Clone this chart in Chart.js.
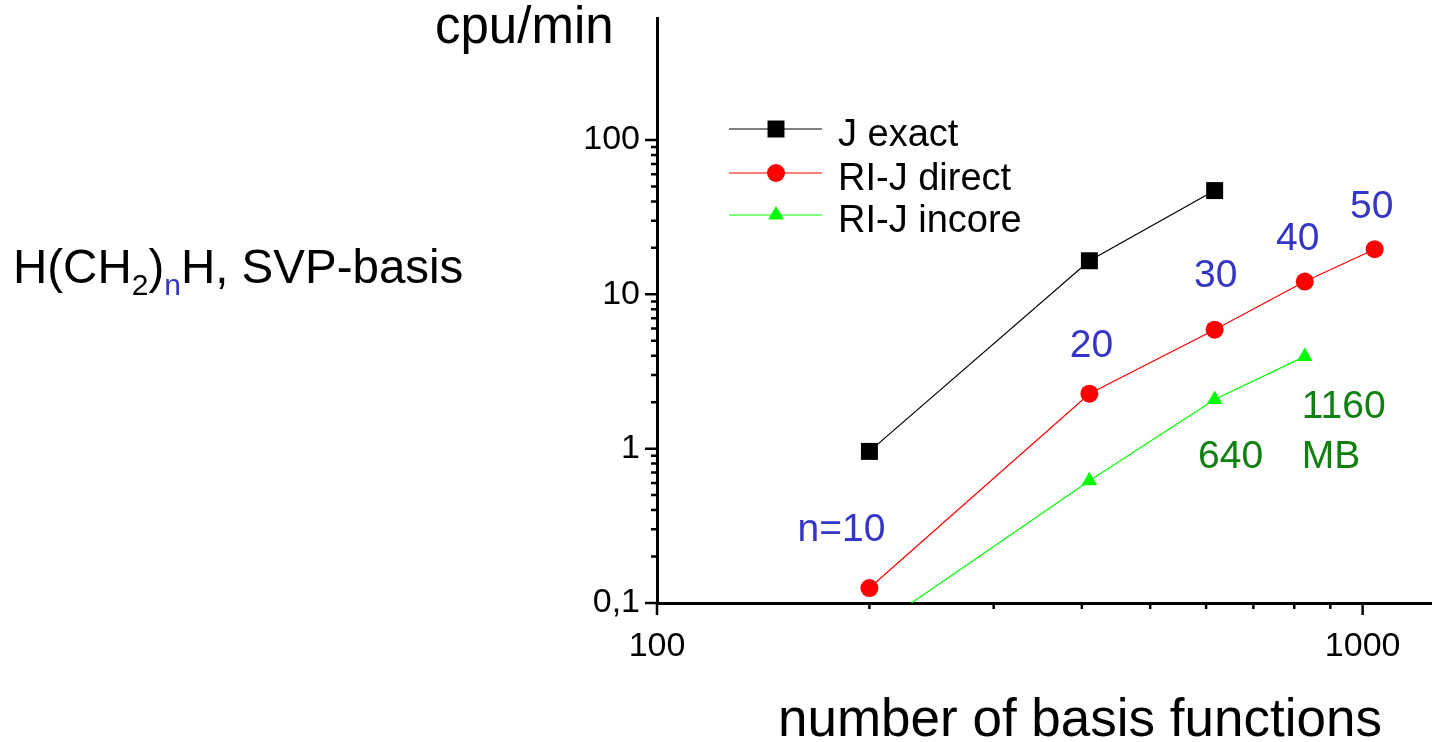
<!DOCTYPE html>
<html>
<head>
<meta charset="utf-8">
<title>cpu/min vs number of basis functions</title>
<script src="https://cdn.jsdelivr.net/npm/chart.js@4.4.1/dist/chart.umd.min.js"></script>
<style>
    html, body { margin: 0; padding: 0; background: #fff; }
    #wrap { position: relative; width: 1432px; height: 742px; }
</style>
</head>
<body>
<div id="wrap"><canvas id="cpuChart" width="1432" height="742"></canvas></div>
<script>
// data (log-log)
const basisFunctions = [200, 410, 617, 828, 1040];
const jExact = [0.96, 16.5, 47, null, null];
const riJDirect = [0.125, 2.27, 5.9, 12.1, 19.6];
const riJIncore = [0.065, 0.62, 2.08, 3.96, null];

const seriesNames = ['J exact', 'RI-J direct', 'RI-J incore'];
const chainLabels = ['n=10', '20', '30', '40', '50'];     // next to RI-J direct points
const memoryLabels = ['640', '1160', 'MB'];               // next to RI-J incore points
const memoryIndex = [2, 3, 3];

const xTicks = [100, 200, 300, 400, 500, 600, 700, 800, 900, 1000];
const yTicks = [0.1, 0.2, 0.3, 0.4, 0.5, 0.6, 0.7, 0.8, 0.9,
                1, 2, 3, 4, 5, 6, 7, 8, 9,
                10, 20, 30, 40, 50, 60, 70, 80, 90, 100];
const xTickLabels = { 100: '100', 1000: '1000' };
const yTickLabels = { 0.1: '0,1', 1: '1', 10: '10', 100: '100' };

const FONT = '"Liberation Sans", Arial, sans-serif';
const BLUE = '#3535c8';
const DKGREEN = '#108010';

function toPoints(values) {
    return basisFunctions.map((x, i) => ({ x: x, y: values[i] })).filter(p => p.y !== null);
}

function isMajor(v) {
    const l = Math.log10(v);
    return Math.abs(l - Math.round(l)) < 1e-9;
}

// label offsets relative to the data point (pixels)
const chainOffsets = [[-28, -58], [2, -47], [1, -53], [-7, -42], [-3, -42]];
const memoryOffsets = [[16, 58, 'center'], [-3, 51, 'left'], [-3, 101, 'left']];

const tickMarks = {
    id: 'tickMarks',
    afterDraw(chart) {
        const { ctx, chartArea, scales: { x, y } } = chart;
        ctx.save();
        ctx.strokeStyle = '#000';
        ctx.lineWidth = 2.5;
        ctx.beginPath();
        x.ticks.forEach(t => {
            const px = x.getPixelForValue(t.value);
            ctx.moveTo(px, chartArea.bottom);
            ctx.lineTo(px, chartArea.bottom + (isMajor(t.value) ? 12 : 6));
        });
        y.ticks.forEach(t => {
            const py = y.getPixelForValue(t.value);
            ctx.moveTo(chartArea.left, py);
            ctx.lineTo(chartArea.left - (isMajor(t.value) ? 12 : 6), py);
        });
        ctx.stroke();
        ctx.restore();
    }
};

const textLayer = {
    id: 'textLayer',
    afterDatasetsDraw(chart) {
        const { ctx, scales: { x, y } } = chart;
        ctx.save();
        ctx.textBaseline = 'middle';

        // chain length labels
        ctx.font = '39px ' + FONT;
        ctx.fillStyle = BLUE;
        ctx.textAlign = 'center';
        chainLabels.forEach((t, i) => {
            const o = chainOffsets[i];
            ctx.fillText(t, x.getPixelForValue(basisFunctions[i]) + o[0], y.getPixelForValue(riJDirect[i]) + o[1]);
        });

        // memory labels
        ctx.fillStyle = DKGREEN;
        memoryLabels.forEach((t, i) => {
            const k = memoryIndex[i];
            const o = memoryOffsets[i];
            ctx.textAlign = o[2];
            ctx.fillText(t, x.getPixelForValue(basisFunctions[k]) + o[0], y.getPixelForValue(riJIncore[k]) + o[1]);
        });

        // legend
        const rows = [129, 173, 215];
        chart.data.datasets.forEach((ds, i) => {
            ctx.strokeStyle = ds.borderColor;
            ctx.lineWidth = ds.borderWidth;
            ctx.beginPath();
            ctx.moveTo(729, rows[i]);
            ctx.lineTo(822, rows[i]);
            ctx.stroke();
            ctx.fillStyle = ds.pointBackgroundColor;
            ctx.strokeStyle = ds.pointBorderColor;
            Chart.helpers.drawPoint(ctx, {
                pointStyle: ds.pointStyle, radius: ds.pointRadius, rotation: 0, borderWidth: 0
            }, 776, rows[i]);
            ctx.fillStyle = '#000';
            ctx.textAlign = 'left';
            ctx.textBaseline = 'alphabetic';
            ctx.font = '38px ' + FONT;
            ctx.fillText(ds.label, 838, rows[i] + 17);
        });

        // axis titles
        ctx.fillStyle = '#000';
        ctx.textBaseline = 'alphabetic';
        ctx.textAlign = 'left';
        ctx.font = '51px ' + FONT;
        ctx.fillText('cpu/min', 435, 43);
        ctx.font = '53px ' + FONT;
        ctx.fillText('number of basis functions', 778, 736);

        // system label H(CH2)nH, SVP-basis
        let cx = 13;
        const parts = [
            ['H(CH', 47.5, 283, '#000'],
            ['2', 30, 295, '#000'],
            [')', 47.5, 283, '#000'],
            ['n', 30, 295, BLUE],
            ['H, SVP-basis', 47.5, 283, '#000']
        ];
        parts.forEach(p => {
            ctx.font = p[1] + 'px ' + FONT;
            ctx.fillStyle = p[3];
            ctx.fillText(p[0], cx, p[2]);
            cx += ctx.measureText(p[0]).width;
        });
        ctx.restore();
    }
};

new Chart(document.getElementById('cpuChart'), {
    type: 'line',
    data: {
        datasets: [{
            label: seriesNames[0],
            data: toPoints(jExact),
            borderColor: '#000000',
            borderWidth: 1.2,
            pointStyle: 'rect',
            pointRadius: 12,
            pointBackgroundColor: '#000000',
            pointBorderColor: '#000000',
            pointBorderWidth: 0
        },
        {
            label: seriesNames[1],
            data: toPoints(riJDirect),
            borderColor: '#ff0000',
            borderWidth: 1.2,
            pointStyle: 'circle',
            pointRadius: 9,
            pointBackgroundColor: '#ff0000',
            pointBorderColor: '#ff0000',
            pointBorderWidth: 0
        },
        {
            label: seriesNames[2],
            data: toPoints(riJIncore),
            borderColor: '#00ff00',
            borderWidth: 1.2,
            pointStyle: 'triangle',
            pointRadius: 9,
            pointBackgroundColor: '#00ff00',
            pointBorderColor: '#00ff00',
            pointBorderWidth: 0,
            clip: 0
        }]
    },
    options: {
        responsive: false,
        animation: false,
        events: [],
        layout: { autoPadding: false, padding: { top: 18, right: 0, left: 0, bottom: 0 } },
        plugins: {
            legend: { display: false },
            tooltip: { enabled: false }
        },
        elements: { line: { tension: 0 } },
        scales: {
            x: {
                type: 'logarithmic',
                min: 100,
                max: 1254,
                afterBuildTicks: s => { s.ticks = xTicks.map(v => ({ value: v })); },
                afterFit: s => { s.height = 139; s.paddingLeft = 0; s.paddingRight = 0; },
                grid: { display: false, drawTicks: false },
                border: { display: true, color: '#000', width: 3 },
                ticks: {
                    autoSkip: false,
                    maxRotation: 0,
                    padding: 23,
                    color: '#000',
                    font: { family: FONT, size: 34 },
                    callback: v => xTickLabels[v] || ''
                }
            },
            y: {
                type: 'logarithmic',
                min: 0.1,
                max: 617,
                afterBuildTicks: s => { s.ticks = yTicks.map(v => ({ value: v })); },
                afterFit: s => { s.width = 657; s.paddingTop = 0; s.paddingBottom = 0; },
                grid: { display: false, drawTicks: false },
                border: { display: true, color: '#000', width: 3 },
                ticks: {
                    autoSkip: false,
                    padding: 17,
                    color: '#000',
                    font: { family: FONT, size: 34 },
                    callback: v => {
                        for (const k in yTickLabels) {
                            if (Math.abs(v - Number(k)) < 1e-9 * Number(k)) return yTickLabels[k];
                        }
                        return '';
                    }
                }
            }
        }
    },
    plugins: [tickMarks, textLayer]
});
</script>
</body>
</html>
